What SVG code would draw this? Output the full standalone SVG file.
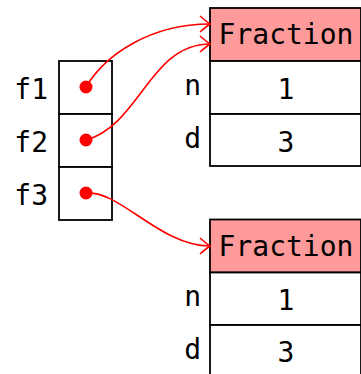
<svg xmlns="http://www.w3.org/2000/svg" width="361" height="374" viewBox="0 0 361 374">
<style>
.box{fill:#fff;stroke:#000;stroke-width:1.8}
.hdr{fill:#ff9a9a;stroke:#000;stroke-width:1.8}
.t{font-family:"DejaVu Sans Mono","Liberation Mono",monospace;font-size:28px;fill:#000}
.c{text-anchor:middle}
.r{text-anchor:end}
.lnk{fill:none;stroke:#f00;stroke-width:1.6}
.dot{fill:#f00}
</style>
<defs>
<marker id="arr" markerUnits="userSpaceOnUse" markerWidth="14" markerHeight="20" viewBox="-12 -10 14 20" refX="0" refY="0" orient="auto">
<path d="M-10,-8 Q-3,-2 0,0 Q-3,2 -10,8" fill="none" stroke="#f00" stroke-width="1.6"/>
</marker>
</defs>
<rect width="361" height="374" fill="#fff"/>
<g id="pointers">
<rect class="box" x="59" y="61" width="53" height="53"/>
<rect class="box" x="59" y="114" width="53" height="53"/>
<rect class="box" x="59" y="167" width="53" height="53"/>
<text class="t r" x="48" y="99">f1</text>
<text class="t r" x="48" y="152">f2</text>
<text class="t r" x="48" y="205">f3</text>
<circle class="dot" cx="86" cy="87" r="6.5"/>
<circle class="dot" cx="86" cy="140" r="6.5"/>
<circle class="dot" cx="86" cy="193" r="6.5"/>
</g>
<g id="fraction1">
<rect class="hdr" x="210" y="8" width="151" height="53"/>
<rect class="box" x="210" y="61" width="151" height="53"/>
<rect class="box" x="210" y="114" width="151" height="52"/>
<text class="t c" x="286" y="44">Fraction</text>
<text class="t c" x="286" y="98.5">1</text>
<text class="t c" x="286" y="151.5">3</text>
<text class="t r" x="201" y="95">n</text>
<text class="t r" x="201" y="148">d</text>
</g>
<g id="fraction2">
<rect class="hdr" x="210" y="219.5" width="151" height="53"/>
<rect class="box" x="210" y="272.5" width="151" height="52.5"/>
<rect class="box" x="210" y="325" width="151" height="60"/>
<text class="t c" x="286" y="256">Fraction</text>
<text class="t c" x="286" y="309.5">1</text>
<text class="t c" x="286" y="362">3</text>
<text class="t r" x="201" y="306">n</text>
<text class="t r" x="201" y="358.5">d</text>
</g>
<g id="connectors">
<path class="lnk" d="M86,87 C105,55 150,24 210,24" marker-end="url(#arr)"/>
<path class="lnk" d="M86,140 C140,125 150,44 210,44" marker-end="url(#arr)"/>
<path class="lnk" d="M86,193 C120,190 160,246 210,246" marker-end="url(#arr)"/>
</g>
</svg>
